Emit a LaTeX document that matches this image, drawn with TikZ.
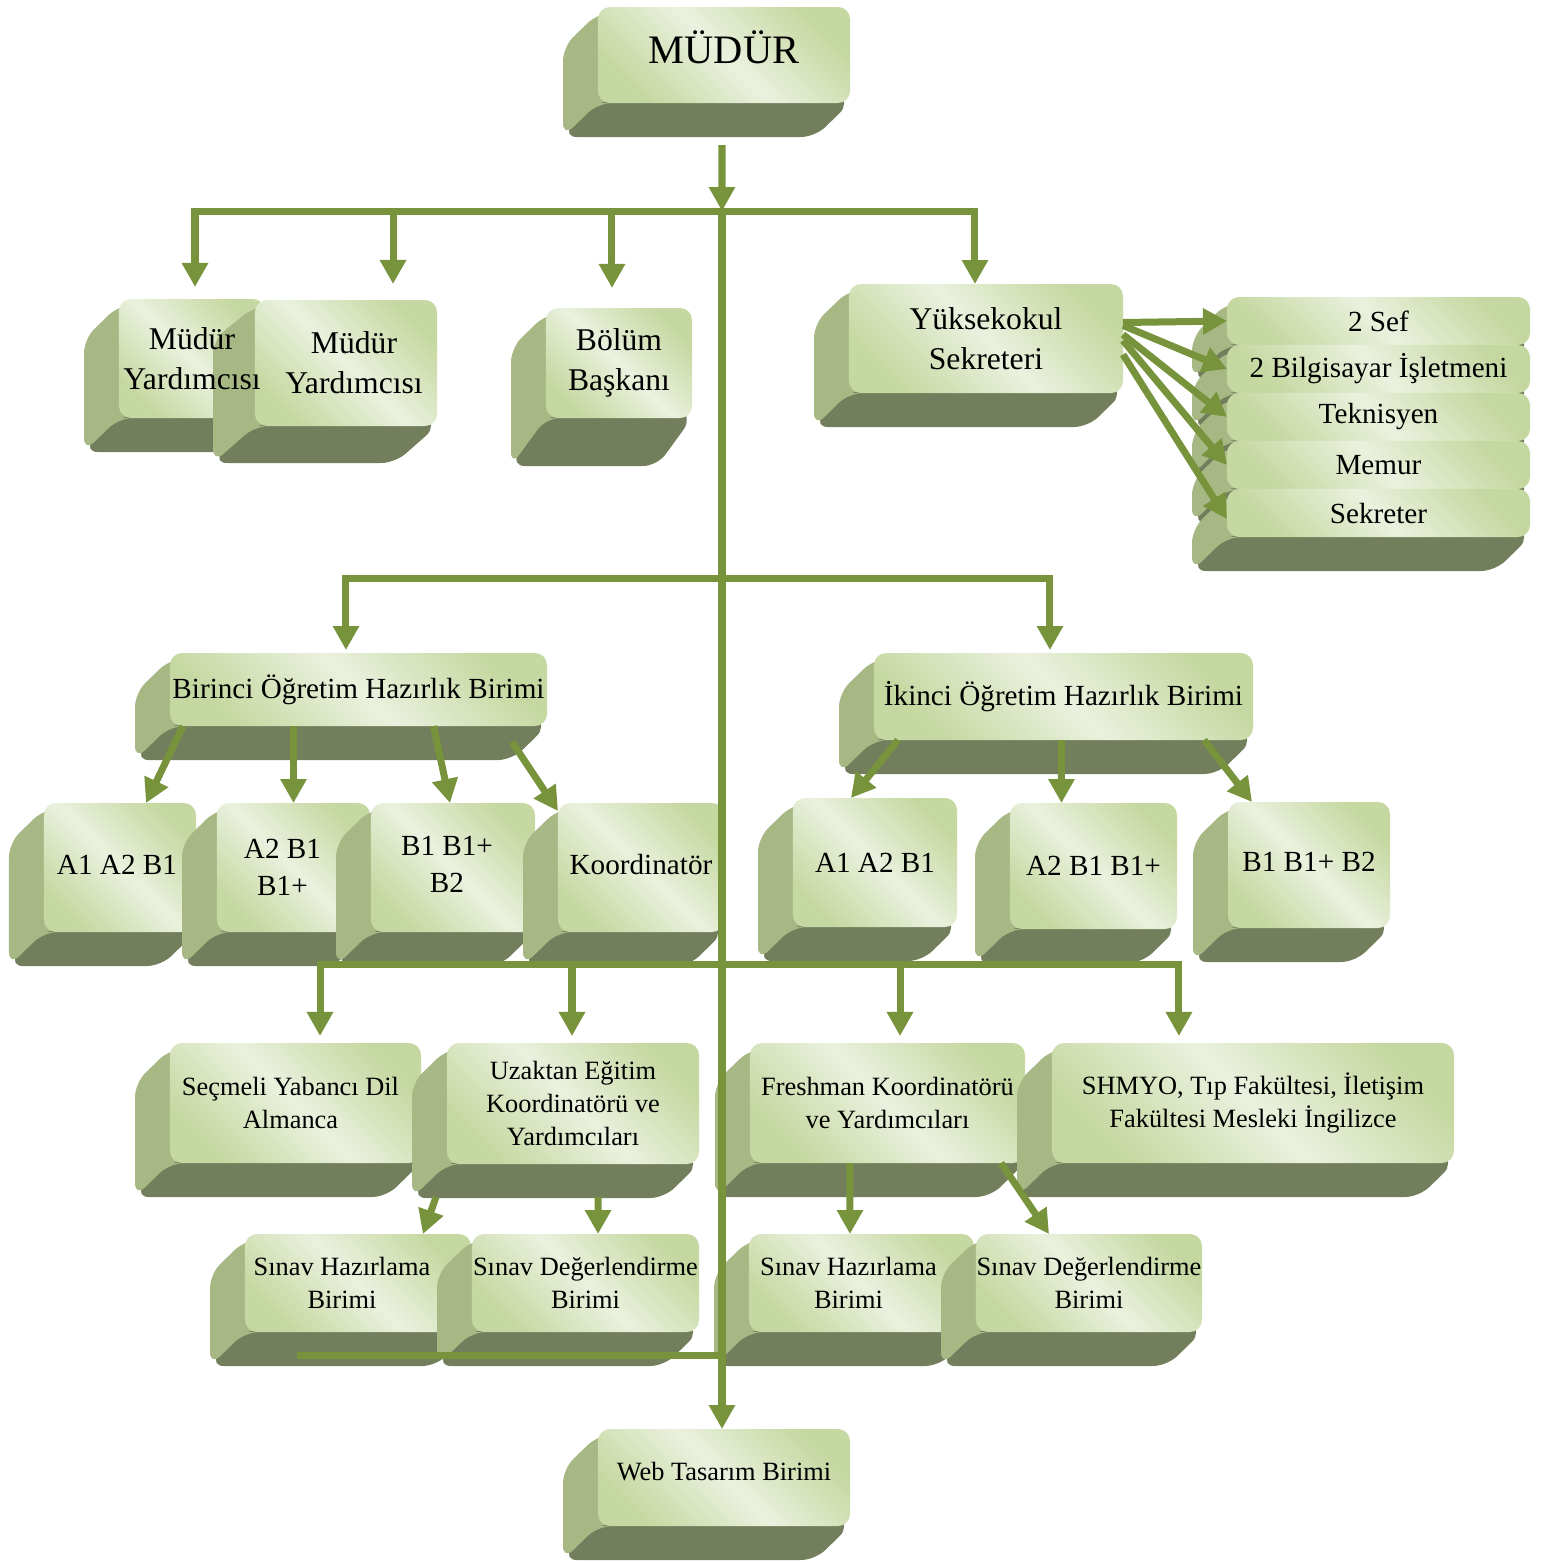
\documentclass[tikz,border=0pt]{standalone}
\usepackage{fontspec}
\setmainfont{Liberation Serif}
\usepackage{tikz}
\usetikzlibrary{arrows.meta}
\usepackage{xcolor}
\definecolor{facelight}{RGB}{234,241,222}
\definecolor{facegreen}{RGB}{198,216,161}
\definecolor{sidegreen}{RGB}{168,184,133}
\definecolor{bottomolive}{RGB}{115,126,92}
\definecolor{linkgreen}{RGB}{119,147,60}

\pgfdeclarelayer{labels}
\pgfsetlayers{main,labels}

% depth of the raised boxes (pixel grid)
\def\cubedx{35}
\def\cubedy{34}

% raised box: #2 name, #3 left, #4 top, #5 right, #6 bottom (pixel grid), #7 text
\newcommand{\cubebox}[7][]{%
  \fill[bottomolive, rounded corners=0.14cm] (#3,#6-15) -- (#5-15,#6-15) -- (#5,#6)
    -- (#5-\cubedx,#6+\cubedy) -- (#3-\cubedx,#6+\cubedy) -- cycle;
  \fill[sidegreen, rounded corners=0.14cm] (#3+15,#4+6) -- (#3,#4+6) -- (#3-\cubedx,#4+40)
    -- (#3-\cubedx,#6+\cubedy) -- (#3,#6) -- (#3+15,#6) -- cycle;
  \pgfmathsetmacro\boxw{(#5-#3)*0.01}
  \pgfmathsetmacro\boxh{(#6-#4)*0.01}
  \node[face, minimum width=\boxw cm, minimum height=\boxh cm] (#2) at ({(#3+#5)/2},{(#4+#6)/2}) {};
  \begin{pgfonlayer}{labels}
    \node[align=center, inner sep=0pt, #1] (#2t) at (#2) {#7};
  \end{pgfonlayer}%
}

\begin{document}
\begin{tikzpicture}[x=0.01cm, y=-0.01cm, >={Triangle[length=0.24cm, width=0.25cm]},
  face/.style={rounded corners=0.12cm, top color=facegreen, bottom color=facegreen,
    middle color=facelight, shading angle=-45, inner sep=0pt, outer sep=0pt},
  link/.style={draw=linkgreen, line width=0.07cm},
  bigtext/.style={font=\fontsize{11.5}{14}\selectfont},
  midtext/.style={font=\fontsize{9}{11.4}\selectfont},
  normtext/.style={font=\fontsize{8.3}{10.5}\selectfont},
  smalltext/.style={font=\fontsize{7.5}{9.4}\selectfont}]
  \useasboundingbox (0,0) rectangle (1556,1562);

  % top levels
  \cubebox[bigtext, yshift=0.08cm]{mudur}{598}{7}{850}{103}{MÜDÜR}
  \cubebox[midtext]{my1}{119}{299}{265}{418}{Müdür\\ Yardımcısı}
  {\def\cubedx{42}\def\cubedy{37}
  \cubebox[midtext, xshift=0.08cm]{my2}{255}{300}{437}{426}{Müdür\\ Yardımcısı}}
  {\def\cubedy{48}
  \cubebox[midtext]{bolum}{546}{308}{692}{418}{Bölüm\\ Başkanı}}
  \cubebox[midtext]{yuksek}{849}{284}{1123}{393}{Yüksekokul\\ Sekreteri}

  % staff list
  \cubebox[normtext]{sef}{1227}{297}{1530}{345}{2 Sef}
  \cubebox[normtext]{bilg}{1227}{345}{1530}{393}{2 Bilgisayar İşletmeni}
  \cubebox[normtext]{tekn}{1227}{393}{1530}{441}{Teknisyen}
  \cubebox[normtext]{memur}{1227}{441}{1530}{489}{Memur}
  \cubebox[normtext]{sekr}{1227}{489}{1530}{537}{Sekreter}

  % preparatory units
  \cubebox[normtext]{birinci}{170}{653}{547}{726}{Birinci Öğretim Hazırlık Birimi}
  \cubebox[normtext]{ikinci}{874}{653}{1253}{740}{İkinci Öğretim Hazırlık Birimi}
  \cubebox[normtext, xshift=-0.03cm, yshift=0.03cm]{a1l}{44}{803}{196}{932}{A1 A2 B1}
  \cubebox[normtext, xshift=-0.11cm]{a2l}{217}{803}{370}{932}{A2 B1\\ B1+}
  \cubebox[normtext, xshift=-0.06cm, yshift=0.03cm]{b1l}{371}{803}{535}{932}{B1 B1+\\ B2}
  \cubebox[normtext, yshift=0.03cm]{koord}{558}{803}{724}{932}{Koordinatör}
  \cubebox[normtext]{a1r}{793}{798}{957}{927}{A1 A2 B1}
  \cubebox[normtext]{a2r}{1010}{803}{1177}{929}{A2 B1 B1+}
  \cubebox[normtext, yshift=0.03cm]{b1r}{1228}{802}{1390}{928}{B1 B1+ B2}

  % lower units
  \cubebox[smalltext, xshift=-0.05cm]{secmeli}{170}{1043}{421}{1163}{Seçmeli Yabancı Dil\\ Almanca}
  \cubebox[smalltext]{uzaktan}{447}{1043}{699}{1164}{Uzaktan Eğitim\\ Koordinatörü ve\\ Yardımcıları}
  \cubebox[smalltext]{fresh}{750}{1043}{1025}{1163}{Freshman Koordinatörü\\ ve Yardımcıları}
  \cubebox[smalltext]{shmyo}{1052}{1043}{1454}{1163}{SHMYO, Tıp Fakültesi, İletişim\\ Fakültesi Mesleki İngilizce}
  \cubebox[smalltext, xshift=-0.16cm]{sh1}{245}{1234}{471}{1332}{Sınav Hazırlama\\ Birimi}
  \cubebox[smalltext]{sd1}{472}{1234}{699}{1332}{Sınav Değerlendirme\\ Birimi}
  \cubebox[smalltext, xshift=-0.13cm]{sh2}{749}{1234}{974}{1332}{Sınav Hazırlama\\ Birimi}
  \cubebox[smalltext]{sd2}{976}{1234}{1202}{1332}{Sınav Değerlendirme\\ Birimi}
  \cubebox[smalltext, yshift=0.06cm]{web}{598}{1429}{850}{1526}{Web Tasarım Birimi}

  % junctions on the trunk
  \coordinate (hub1) at (722,211);
  \coordinate (hub2) at (722,578);
  \coordinate (hub3) at (722,964);
  \coordinate (hub4) at (722,1355);
  \coordinate (webfeed) at (297,1355);

  \draw[link, ->] ([xshift=-0.02cm, yshift=-0.42cm]mudur.south) -- (hub1);
  \draw[link] (hub1) -- (hub4);
  \draw[link, ->] (hub1) -| ([xshift=0.03cm, yshift=0.12cm]my1.north);
  \draw[link, ->] (hub1) -| ([xshift=0.47cm, yshift=0.16cm]my2.north);
  \draw[link, ->] (hub1) -| ([xshift=-0.07cm, yshift=0.2cm]bolum.north);
  \draw[link, ->] (hub1) -| ([xshift=-0.11cm]yuksek.north);

  \draw[link, ->] ([yshift=0.16cm]yuksek.east) -- (sef.west);
  \draw[link, ->] ([yshift=0.13cm]yuksek.east) -- (bilg.west);
  \draw[link, ->] ([yshift=0.04cm]yuksek.east) -- (tekn.west);
  \draw[link, ->] ([yshift=-0.02cm]yuksek.east) -- (memur.west);
  \draw[link, ->] ([yshift=-0.16cm]yuksek.east) -- ([yshift=-0.06cm]sekr.west);

  \draw[link, ->] (hub2) -| ([xshift=-0.125cm, yshift=0.03cm]birinci.north);
  \draw[link, ->] (hub2) -| ([xshift=-0.135cm, yshift=0.03cm]ikinci.north);

  \draw[link, ->] ([xshift=0.13cm]birinci.south west) -- ([xshift=0.26cm]a1l.north);
  \draw[link, ->] (birinci.south -| a2l.north) -- (a2l.north);
  \draw[link, ->] ([xshift=0.75cm]birinci.south) -- ([xshift=-0.03cm]b1l.north);
  \draw[link, ->] ([xshift=-0.35cm, yshift=-0.16cm]birinci.south east) -- ([yshift=-0.08cm]koord.north west);

  \draw[link, ->] ([xshift=0.24cm]ikinci.south west) -- ([xshift=-0.24cm]a1r.north);
  \draw[link, ->] ([xshift=-0.02cm]ikinci.south) -- ([xshift=-0.32cm]a2r.north);
  \draw[link, ->] ([xshift=-0.49cm]ikinci.south east) -- ([xshift=0.24cm]b1r.north west);

  \draw[link, ->] (hub3) -| ([xshift=0.245cm, yshift=0.07cm]secmeli.north);
  \draw[link, ->] (hub3) -| ([xshift=-0.01cm, yshift=0.07cm]uzaktan.north);
  \draw[link, ->] (hub3) -| ([xshift=0.125cm, yshift=0.07cm]fresh.north);
  \draw[link, ->] (hub3) -| ([xshift=-0.74cm, yshift=0.07cm]shmyo.north);

  \draw[link, ->] ([xshift=-0.11cm, yshift=-0.33cm]uzaktan.south west) -- ([xshift=-0.48cm]sh1.north east);
  \draw[link, ->] ([xshift=0.25cm, yshift=-0.33cm]uzaktan.south) -- ([xshift=0.125cm]sd1.north);
  \draw[link, ->] ([xshift=-0.375cm]fresh.south) -- ([xshift=-0.115cm]sh2.north);
  \draw[link, ->] ([xshift=-0.24cm]fresh.south east) -- ([xshift=0.73cm]sd2.north west);

  \draw[link] (webfeed) -- (hub4);
  \draw[link, ->] (hub4) -- (hub4 |- web.north);
\end{tikzpicture}
\end{document}
